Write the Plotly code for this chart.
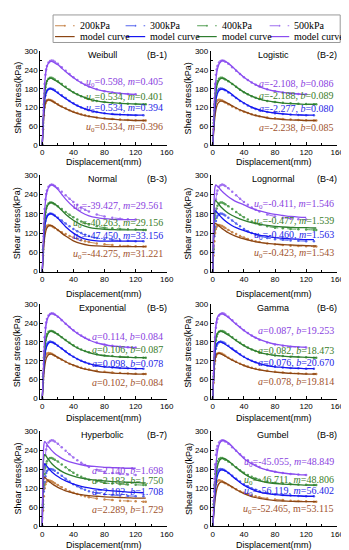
import plotly.graph_objects as go

# ---------------- data ----------------
PRESSURES = ["200kPa", "300kPa", "400kPa", "500kPa"]

# experimental curves
EXP_X_200 = [0, 1, 2, 3, 4, 5, 6, 8, 10, 12, 14, 16, 20, 25, 30, 35, 40, 45, 50, 55, 60, 70, 80, 90, 100, 110, 120, 130, 133]
EXP_Y_200 = [0, 50, 95, 120, 133, 140, 143, 145, 144, 142, 139, 136, 130, 123, 117, 111, 106, 102, 98, 95, 92, 88, 85, 83, 81, 80, 79, 78, 78]
EXP_X_300 = [0, 1, 2, 3, 4, 5, 6, 8, 10, 12, 14, 16, 20, 25, 30, 35, 40, 45, 50, 55, 60, 70, 80, 90, 100, 110, 120, 130]
EXP_Y_300 = [0, 60, 110, 140, 158, 168, 174, 179, 181, 180, 178, 175, 168, 159, 150, 141, 133, 126, 120, 115, 111, 105, 101, 99, 97, 96, 95, 95]
EXP_X_400 = [0, 1, 2, 3, 4, 5, 6, 8, 10, 12, 14, 16, 20, 25, 30, 35, 40, 45, 50, 55, 60, 70, 80, 90, 100, 110, 120, 130, 133]
EXP_Y_400 = [0, 70, 130, 165, 185, 197, 205, 212, 215, 215, 213, 210, 204, 195, 186, 177, 169, 162, 156, 151, 147, 141, 137, 135, 133, 132, 131, 130, 130]
EXP_X_500 = [0, 1, 2, 3, 4, 5, 6, 8, 10, 12, 14, 16, 20, 25, 30, 35, 40, 45, 50, 55, 60, 70, 80, 90, 100, 110, 120]
EXP_Y_500 = [0, 80, 150, 195, 225, 242, 253, 264, 269, 271, 270, 267, 260, 249, 238, 227, 217, 208, 200, 193, 187, 178, 172, 168, 165, 163, 162]

# model curve sample displacements (trimmed to each test length)
MODEL_X = [0, 1, 2, 3, 4, 5, 6, 8, 10, 12, 15, 20, 25, 30, 40, 50, 60, 70, 80, 90, 100, 110, 120, 130, 133]

WEIBULL = [
    [0, 45, 90, 118, 132, 139, 142, 144, 143, 141, 137, 129, 122, 116, 105, 97, 91, 87, 84, 82, 80, 79, 78, 78, 78],
    [0, 55, 105, 138, 157, 167, 173, 178, 180, 179, 175, 166, 157, 148, 132, 120, 111, 105, 101, 98, 97, 96, 95, 95],
    [0, 65, 125, 163, 184, 196, 204, 211, 214, 213, 209, 202, 193, 184, 168, 156, 147, 141, 137, 135, 133, 132, 131, 130, 130],
    [0, 75, 145, 192, 222, 240, 251, 262, 267, 268, 264, 257, 246, 235, 215, 199, 187, 178, 172, 168, 165, 163, 162],
]
LOGISTIC = [
    [0, 35, 70, 95, 112, 123, 130, 137, 140, 140, 138, 132, 125, 118, 107, 98, 91, 86, 83, 81, 80, 79, 78, 78, 78],
    [0, 45, 90, 120, 142, 156, 165, 174, 178, 179, 177, 170, 161, 151, 134, 121, 112, 106, 102, 99, 97, 96, 95, 95],
    [0, 55, 108, 145, 170, 186, 196, 207, 212, 214, 212, 205, 196, 186, 169, 156, 147, 141, 137, 134, 132, 131, 130, 130, 130],
    [0, 60, 125, 175, 208, 229, 243, 259, 266, 270, 269, 262, 251, 239, 217, 200, 187, 178, 172, 168, 165, 163, 162],
]
NORMAL = [
    [0, 40, 80, 105, 120, 130, 136, 142, 144, 143, 139, 130, 120, 111, 96, 87, 82, 80, 79, 78, 78, 78, 78, 78, 78],
    [0, 50, 100, 133, 152, 163, 170, 177, 180, 180, 176, 166, 153, 140, 120, 106, 99, 96, 95, 95, 95, 95, 95, 95],
    [0, 60, 120, 158, 180, 193, 201, 210, 214, 215, 212, 203, 191, 179, 160, 146, 138, 134, 132, 131, 130, 130, 130, 130, 130],
    [0, 70, 140, 187, 217, 236, 248, 262, 268, 270, 267, 256, 241, 226, 202, 185, 174, 168, 165, 163, 162, 162, 162],
]
LOGNORMAL = [
    [0, 90, 140, 150, 150, 148, 146, 142, 138, 134, 129, 121, 115, 110, 102, 96, 91, 88, 86, 84, 83, 82, 81, 80, 80],
    [0, 110, 175, 190, 189, 186, 183, 177, 172, 167, 160, 151, 143, 137, 128, 120, 114, 110, 106, 104, 102, 101, 100, 100],
    [0, 130, 205, 222, 221, 218, 215, 209, 203, 198, 191, 182, 175, 169, 160, 153, 148, 144, 141, 139, 138, 137, 137, 136, 136],
    [0, 150, 240, 265, 270, 268, 265, 261, 255, 250, 243, 233, 225, 218, 208, 197, 189, 183, 178, 175, 172, 170, 169],
]
EXPONENTIAL = [
    [0, 38, 75, 100, 116, 126, 132, 139, 141, 141, 138, 131, 124, 117, 106, 97, 91, 86, 83, 81, 80, 79, 78, 78, 78],
    [0, 48, 95, 127, 148, 160, 168, 176, 179, 179, 176, 168, 159, 149, 133, 120, 111, 105, 101, 99, 97, 96, 95, 95],
    [0, 58, 113, 152, 176, 190, 199, 209, 213, 214, 211, 204, 195, 185, 168, 155, 146, 140, 136, 134, 132, 131, 130, 130, 130],
    [0, 65, 130, 182, 215, 235, 247, 261, 267, 270, 268, 261, 250, 238, 216, 199, 186, 177, 171, 167, 165, 163, 162],
]
GAMMA = [
    [0, 55, 100, 124, 135, 141, 143, 144, 143, 140, 136, 129, 122, 116, 105, 97, 91, 87, 84, 82, 80, 79, 78, 78, 78],
    [0, 62, 115, 148, 165, 173, 177, 180, 180, 178, 174, 166, 157, 148, 132, 120, 111, 105, 101, 99, 97, 96, 95, 95],
    [0, 72, 135, 172, 191, 201, 207, 213, 214, 213, 209, 202, 193, 184, 168, 156, 147, 141, 137, 135, 133, 132, 131, 130, 130],
    [0, 80, 155, 205, 233, 249, 258, 266, 269, 269, 266, 258, 247, 236, 216, 200, 188, 179, 173, 169, 166, 164, 163],
]
HYPERBOLIC = [
    [0, 120, 152, 155, 153, 150, 148, 143, 139, 135, 130, 123, 117, 112, 105, 100, 97, 95, 93, 92, 91, 90, 89, 89, 89],
    [0, 140, 190, 197, 195, 192, 189, 183, 177, 172, 166, 157, 149, 143, 133, 126, 121, 117, 114, 112, 110, 108, 107, 106],
    [0, 160, 218, 226, 224, 221, 217, 210, 204, 198, 191, 181, 173, 167, 158, 152, 148, 145, 143, 141, 140, 139, 138, 137, 137],
    [0, 185, 255, 267, 265, 262, 258, 251, 245, 239, 232, 222, 214, 208, 200, 194, 190, 188, 186, 185, 184, 183, 183],
]
GUMBEL = [
    [0, 30, 60, 85, 103, 116, 125, 135, 139, 140, 138, 132, 124, 116, 103, 94, 88, 84, 81, 80, 79, 78, 78, 78, 78],
    [0, 35, 72, 104, 130, 148, 160, 172, 177, 178, 176, 169, 158, 148, 130, 117, 108, 103, 100, 98, 97, 96, 95, 95],
    [0, 40, 85, 125, 155, 175, 189, 204, 211, 214, 213, 206, 196, 185, 166, 152, 143, 138, 135, 133, 132, 131, 130, 130, 130],
    [0, 45, 100, 150, 190, 217, 236, 257, 266, 270, 270, 263, 251, 238, 214, 197, 185, 177, 172, 168, 165, 163, 162],
]

MODEL_NAMES = ["Weibull", "Logistic", "Normal", "Lognormal", "Exponential", "Gamma", "Hyperbolic", "Gumbel"]
PANEL_LABELS = ["(B-1)", "(B-2)", "(B-3)", "(B-4)", "(B-5)", "(B-6)", "(B-7)", "(B-8)"]
MODELS = [WEIBULL, LOGISTIC, NORMAL, LOGNORMAL, EXPONENTIAL, GAMMA, HYPERBOLIC, GUMBEL]

UM = "<i>u</i><sub>0</sub>={}, <i>m</i>={}"
AB = "<i>a</i>={}, <i>b</i>={}"
PARAMS = [
    [UM.format("0.534", "0.396"), UM.format("0.534", "0.394"), UM.format("0.534", "0.401"), UM.format("0.598", "0.405")],
    [AB.format("-2.238", "0.085"), AB.format("-2.277", "0.080"), AB.format("-2.188", "0.089"), AB.format("-2.108", "0.086")],
    [UM.format("-44.275", "31.221"), UM.format("-47.450", "33.156"), UM.format("-40.263", "29.156"), UM.format("-39.427", "29.561")],
    [UM.format("-0.423", "1.543"), UM.format("-0.460", "1.563"), UM.format("-0.477", "1.539"), UM.format("-0.411", "1.546")],
    [AB.format("0.102", "0.084"), AB.format("0.098", "0.078"), AB.format("0.106", "0.087"), AB.format("0.114", "0.084")],
    [AB.format("0.078", "19.814"), AB.format("0.076", "20.670"), AB.format("0.082", "18.473"), AB.format("0.087", "19.253")],
    [AB.format("2.289", "1.729"), AB.format("2.182", "1.708"), AB.format("2.183", "1.750"), AB.format("2.140", "1.698")],
    ["<i>u</i><sub>0</sub>=-52.465, m=53.115", UM.format("-56.119", "56.402"), UM.format("-46.711", "48.806"), UM.format("-45.055", "48.849")],
]
# label heights (kPa) for the parameter text of each panel: 200, 300, 400, 500
PARAM_Y = [
    [54, 117, 152, 199],
    [54, 117, 158, 196],
    [52, 109, 151, 203],
    [58, 112, 155, 209],
    [50, 112, 156, 197],
    [53, 116, 153, 216],
    [52, 110, 143, 176],
    [53, 111, 146, 201],
]

EXP_X = [EXP_X_200, EXP_X_300, EXP_X_400, EXP_X_500]
EXP_Y = [EXP_Y_200, EXP_Y_300, EXP_Y_400, EXP_Y_500]

# ---------------- styling ----------------
DATA_COLORS = ["#C8874E", "#5566EE", "#55A055", "#A070F0"]
MODEL_COLORS = ["#8B4513", "#1515F0", "#2E7D2E", "#8A4CF0"]
TEXT_COLORS = ["#A0522D", "#1E1EE6", "#3A7D2A", "#8A3FE0"]

W, H = 349, 550
COL_PX = [(33, 162), (207, 336)]
ROW_PX = [(40, 135), (166, 264), (297, 393), (426, 523)]
XTITLE_Y = [153, 287, 413, 542]
YTITLE_X = [10, 184]
XRANGE = [-2.5, 160]
SANS = "Liberation Sans"
SERIF = "Liberation Serif"

fig = go.Figure()
annotations = []
shapes = []

for p in range(8):
    r, c = p // 2, p % 2
    ax = "" if p == 0 else str(p + 1)
    xa, ya = "x" + ax, "y" + ax
    model = MODELS[p]
    for i in range(4):
        fig.add_trace(go.Scatter(
            x=EXP_X[i], y=EXP_Y[i], mode="lines+markers", name=PRESSURES[i],
            line=dict(color=DATA_COLORS[i], width=1, dash="dash", shape="spline"),
            marker=dict(size=2.5, color=DATA_COLORS[i]),
            xaxis=xa, yaxis=ya, showlegend=False))
    for i in range(4):
        n = len(model[i])
        fig.add_trace(go.Scatter(
            x=MODEL_X[:n], y=model[i], mode="lines", name="model curve",
            line=dict(color=MODEL_COLORS[i], width=1.3, shape="spline"),
            xaxis=xa, yaxis=ya, showlegend=False))

    x0, x1 = COL_PX[c]
    y0, y1 = ROW_PX[r]
    axis_common = dict(showline=True, linecolor="black", linewidth=1, mirror=False,
                       showgrid=False, zeroline=False, ticks="inside", ticklen=3,
                       tickcolor="black", tickfont=dict(family=SANS, size=8, color="black"))
    fig.update_layout(**{
        ("xaxis" + ax): dict(
            domain=[x0 / W, x1 / W], range=XRANGE, anchor=ya,
            tickvals=[0, 40, 80, 120, 160],
            minor=dict(ticks="inside", ticklen=2, tickvals=[20, 60, 100, 140], tickcolor="black"),
            **axis_common),
        ("yaxis" + ax): dict(
            domain=[1 - y1 / H, 1 - y0 / H], range=[0, 300], anchor=xa,
            tickvals=[0, 60, 120, 180, 240, 300],
            minor=dict(ticks="inside", ticklen=2, tickvals=[30, 90, 150, 210, 270], tickcolor="black"),
            **axis_common),
    })
    # axis titles
    annotations.append(dict(x=(x0 + x1) / 2 / W, y=1 - XTITLE_Y[r] / H, xref="paper", yref="paper",
                            text="Displacement(mm)", showarrow=False, xanchor="center", yanchor="middle",
                            font=dict(family=SANS, size=9, color="black")))
    annotations.append(dict(x=YTITLE_X[c] / W, y=1 - (y0 + y1) / 2 / H, xref="paper", yref="paper",
                            text="Shear stress(kPa)", showarrow=False, textangle=-90,
                            xanchor="center", yanchor="middle",
                            font=dict(family=SANS, size=9, color="black")))
    # panel titles
    annotations.append(dict(x=78, y=287, xref=xa, yref=ya, text=MODEL_NAMES[p], showarrow=False,
                            font=dict(family=SANS, size=9, color="black")))
    annotations.append(dict(x=147, y=287, xref=xa, yref=ya, text=PANEL_LABELS[p], showarrow=False,
                            font=dict(family=SANS, size=9, color="black")))
    for i in range(4):
        annotations.append(dict(x=158, y=PARAM_Y[p][i], xref=xa, yref=ya, text=PARAMS[p][i],
                                showarrow=False, xanchor="right", yanchor="middle",
                                font=dict(family=SERIF, size=10, color=TEXT_COLORS[i])))

# ---------------- legend (drawn in paper space) ----------------
shapes.append(dict(type="rect", xref="paper", yref="paper", x0=46 / W, x1=339 / W,
                   y0=1 - 31 / H, y1=1 - 3 / H, line=dict(color="#999999", width=1)))
LEG_COL = [48, 120, 193, 267]
LEG_ROW = [14, 25]
for i in range(4):
    for row, (lbl, col, dash) in enumerate([(PRESSURES[i], DATA_COLORS[i], "dash"),
                                             ("model curve", MODEL_COLORS[i], "solid")]):
        yy = 1 - LEG_ROW[row] / H
        xs = LEG_COL[i]
        shapes.append(dict(type="line", xref="paper", yref="paper", x0=xs / W, x1=(xs + 20) / W,
                           y0=yy, y1=yy, line=dict(color=col, width=1.2, dash=dash)))
        if row == 0:
            shapes.append(dict(type="circle", xref="paper", yref="paper",
                               x0=(xs + 9) / W, x1=(xs + 11) / W, y0=yy - 1 / H, y1=yy + 1 / H,
                               fillcolor=col, line=dict(color=col, width=0)))
        annotations.append(dict(x=(xs + 23) / W, y=yy, xref="paper", yref="paper", text=lbl,
                                showarrow=False, xanchor="left", yanchor="middle",
                                font=dict(family=SERIF, size=10, color="black")))

fig.update_layout(
    width=W, height=H, margin=dict(l=0, r=0, t=0, b=0),
    paper_bgcolor="white", plot_bgcolor="white",
    showlegend=False, annotations=annotations, shapes=shapes,
)

fig.write_html("out.html")
